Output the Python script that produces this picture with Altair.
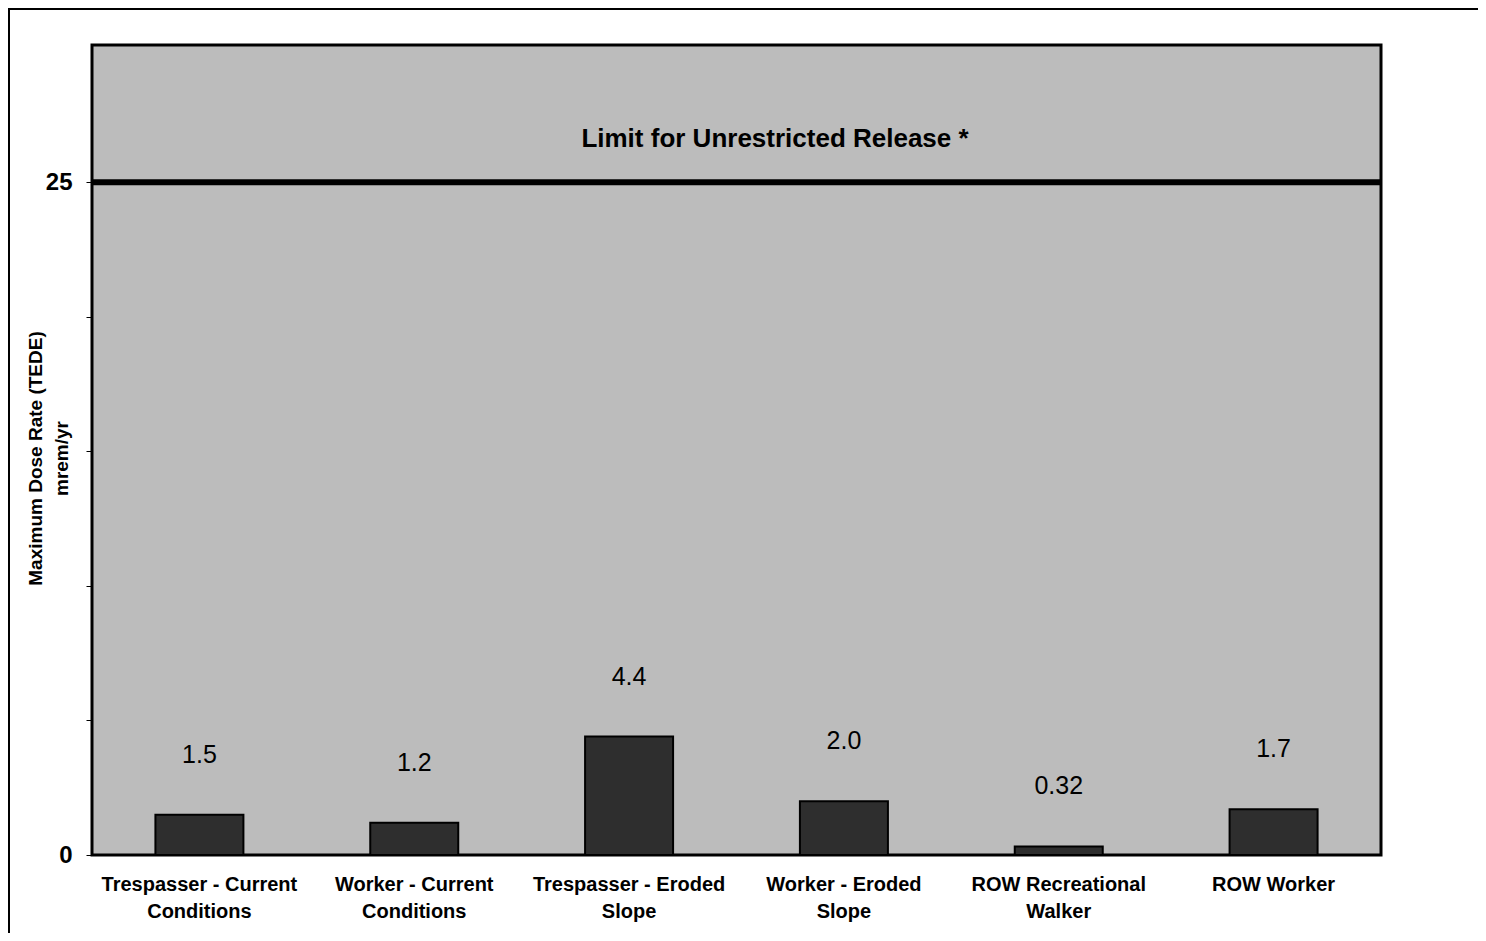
import altair as alt
import pandas as pd

categories = [
    "Trespasser - Current\nConditions",
    "Worker - Current\nConditions",
    "Trespasser - Eroded\nSlope",
    "Worker - Eroded\nSlope",
    "ROW Recreational\nWalker",
    "ROW Worker",
]
doses = [1.5, 1.2, 4.4, 2.0, 0.32, 1.7]
dose_labels = ["1.5", "1.2", "4.4", "2.0", "0.32", "1.7"]
limit_value = 25
limit_text = "Limit for Unrestricted Release *"
y_ticks = [0, 5, 10, 15, 20, 25]

df = pd.DataFrame({"cat": categories, "dose": doses, "label": dose_labels})

W, H = 1289, 810
FONT = "Liberation Sans"

xenc = alt.X(
    "cat:N",
    sort=categories,
    scale=alt.Scale(paddingInner=0, paddingOuter=0),
    axis=alt.Axis(
        title=None,
        labelAngle=0,
        labelExpr="split(datum.label, '\\n')",
        labelFont=FONT,
        labelFontSize=20,
        labelFontWeight="bold",
        labelColor="black",
        labelLineHeight=27,
        labelPadding=19,
        ticks=False,
        domain=False,
        labelLimit=300,
    ),
)
yscale = alt.Scale(domain=[0, 30.1], nice=False)
yenc = alt.Y(
    "dose:Q",
    scale=yscale,
    axis=alt.Axis(
        title=["Maximum Dose Rate (TEDE)", "mrem/yr"],
        titleFont=FONT,
        titleFontSize=19,
        titleFontWeight="bold",
        titleColor="black",
        titleLineHeight=26,
        titleX=-57,
        titleY=H / 2 + 8,
        titleAlign="center",
        titleBaseline="middle",
        values=y_ticks,
        labelExpr="(datum.value == 0 || datum.value == 25) ? datum.label : ''",
        labelFont=FONT,
        labelFontSize=24,
        labelFontWeight="bold",
        labelColor="black",
        labelPadding=14,
        tickSize=6,
        tickColor="black",
        tickWidth=1,
        domain=False,
        grid=False,
    ),
)

bars = alt.Chart(df).mark_bar(
    size=88, fill="#2e2e2e", stroke="black", strokeWidth=2
).encode(x=xenc, y=yenc)

vals = alt.Chart(df).mark_text(
    font=FONT, fontSize=25, color="black", baseline="middle", dy=-60
).encode(x=alt.X("cat:N", sort=categories), y=alt.Y("dose:Q", scale=yscale), text="label:N")

limit_df = pd.DataFrame({"limit": [limit_value], "txt": [limit_text], "ty": [26.6]})
limit_line = alt.Chart(limit_df).mark_rule(color="black", strokeWidth=6).encode(
    y=alt.Y("limit:Q", scale=yscale)
)
limit_label = alt.Chart(limit_df).mark_text(
    font=FONT, fontSize=26, fontWeight="bold", color="black", baseline="middle"
).encode(y=alt.Y("ty:Q", scale=yscale), x=alt.value(683), text="txt:N")

# outer page frame (top and left edges)
frame_top = alt.Chart(limit_df).mark_rule(color="black", strokeWidth=2, clip=False).encode(
    x=alt.value(-84), x2=alt.value(W + 100), y=alt.value(-36)
)
frame_left = alt.Chart(limit_df).mark_rule(color="black", strokeWidth=2, clip=False).encode(
    x=alt.value(-83), y=alt.value(-37), y2=alt.value(H + 100)
)

chart = (
    alt.layer(bars, vals, limit_line, limit_label, frame_top, frame_left)
    .properties(
        width=W,
        height=H,
        autosize=alt.AutoSizeParams(type="none"),
        padding={"left": 84, "top": 37, "right": 97, "bottom": 78},
        background="white",
    )
    .configure_view(fill="#bcbcbc", stroke="black", strokeWidth=3)
)

chart.save("out.html", embed_options={"renderer": "svg", "actions": False})
